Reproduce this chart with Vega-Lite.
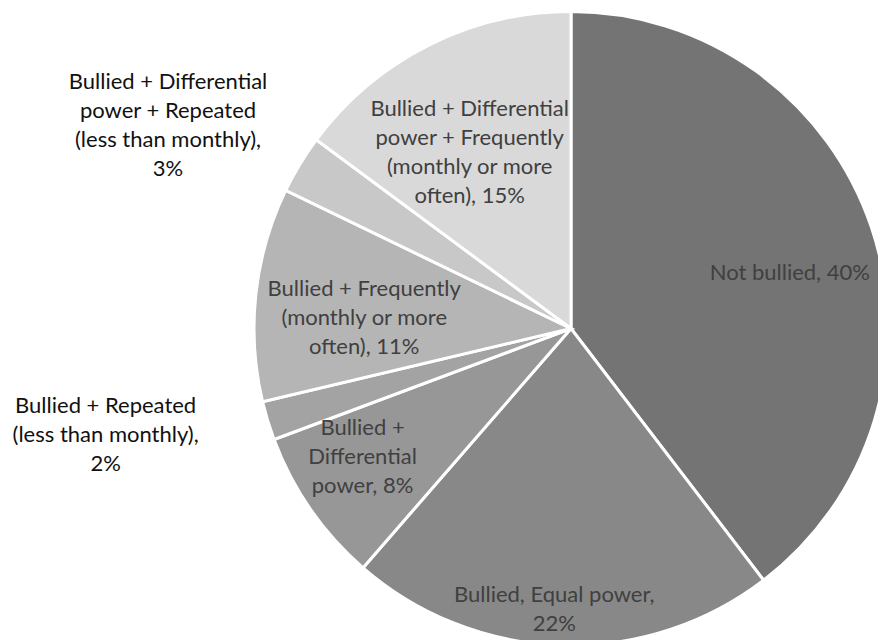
{
  "$schema": "https://vega.github.io/schema/vega-lite/v6.json",
  "width": 1142,
  "height": 657,
  "autosize": "none",
  "padding": 0,
  "background": "white",
  "config": {"view": {"stroke": null}},
  "data": {"values": [
    {"cat": "Not bullied", "value": 40, "ord": 1, "label": "Not bullied, 40%"},
    {"cat": "Bullied, Equal power", "value": 22, "ord": 2, "label": "Bullied, Equal power,\n22%"},
    {"cat": "Bullied + Differential power", "value": 8, "ord": 3, "label": "Bullied +\nDifferential\npower, 8%"},
    {"cat": "Bullied + Repeated (less than monthly)", "value": 2, "ord": 4, "label": "Bullied + Repeated\n(less than monthly),\n2%"},
    {"cat": "Bullied + Frequently (monthly or more often)", "value": 11, "ord": 5, "label": "Bullied + Frequently\n(monthly or more\noften), 11%"},
    {"cat": "Bullied + Differential power + Repeated (less than monthly)", "value": 3, "ord": 6, "label": "Bullied + Differential\npower + Repeated\n(less than monthly),\n3%"},
    {"cat": "Bullied + Differential power + Frequently (monthly or more often)", "value": 15, "ord": 7, "label": "Bullied + Differential\npower + Frequently\n(monthly or more\noften), 15%"}
  ]},
  "layer": [
    {
      "mark": {"type": "arc", "outerRadius": 317, "stroke": "white", "strokeWidth": 3},
      "encoding": {
        "theta": {"field": "value", "type": "quantitative", "stack": true},
        "order": {"field": "ord", "type": "quantitative"},
        "color": {"field": "cat", "type": "nominal", "legend": null,
          "scale": {"domain": ["Not bullied", "Bullied, Equal power", "Bullied + Differential power", "Bullied + Repeated (less than monthly)", "Bullied + Frequently (monthly or more often)", "Bullied + Differential power + Repeated (less than monthly)", "Bullied + Differential power + Frequently (monthly or more often)"],
            "range": ["#747474", "#888888", "#979797", "#a3a3a3", "#b5b5b5", "#c8c8c8", "#d9d9d9"]}}
      }
    },
    {
      "mark": {"type": "text", "radius": 231, "dy": 19, "font": "Lato", "fontSize": 22, "lineHeight": 29, "lineBreak": "\n", "color": "#404040", "align": "center", "baseline": "middle"},
      "encoding": {
        "theta": {"field": "value", "type": "quantitative", "stack": true},
        "order": {"field": "ord", "type": "quantitative"},
        "text": {"condition": {"test": "datum.ord == 1", "field": "label"}, "value": ""}
      }
    },
    {
      "mark": {"type": "text", "radius": 280, "dx": -8, "dy": -13, "font": "Lato", "fontSize": 22, "lineHeight": 29, "lineBreak": "\n", "color": "#404040", "align": "center", "baseline": "middle"},
      "encoding": {
        "theta": {"field": "value", "type": "quantitative", "stack": true},
        "order": {"field": "ord", "type": "quantitative"},
        "text": {"condition": {"test": "datum.ord == 2", "field": "label"}, "value": ""}
      }
    },
    {
      "mark": {"type": "text", "radius": 244, "dx": -8, "dy": -40, "font": "Lato", "fontSize": 22, "lineHeight": 29, "lineBreak": "\n", "color": "#404040", "align": "center", "baseline": "middle"},
      "encoding": {
        "theta": {"field": "value", "type": "quantitative", "stack": true},
        "order": {"field": "ord", "type": "quantitative"},
        "text": {"condition": {"test": "datum.ord == 3", "field": "label"}, "value": ""}
      }
    },
    {
      "mark": {"type": "text", "radius": 476, "dx": -10, "dy": -61, "font": "Lato", "fontSize": 22, "lineHeight": 29, "lineBreak": "\n", "color": "#111111", "align": "center", "baseline": "middle"},
      "encoding": {
        "theta": {"field": "value", "type": "quantitative", "stack": true},
        "order": {"field": "ord", "type": "quantitative"},
        "text": {"condition": {"test": "datum.ord == 4", "field": "label"}, "value": ""}
      }
    },
    {
      "mark": {"type": "text", "radius": 208, "dy": -17, "font": "Lato", "fontSize": 22, "lineHeight": 29, "lineBreak": "\n", "color": "#404040", "align": "center", "baseline": "middle"},
      "encoding": {
        "theta": {"field": "value", "type": "quantitative", "stack": true},
        "order": {"field": "ord", "type": "quantitative"},
        "text": {"condition": {"test": "datum.ord == 5", "field": "label"}, "value": ""}
      }
    },
    {
      "mark": {"type": "text", "radius": 450, "dx": -18, "dy": -13, "font": "Lato", "fontSize": 22, "lineHeight": 29, "lineBreak": "\n", "color": "#111111", "align": "center", "baseline": "middle"},
      "encoding": {
        "theta": {"field": "value", "type": "quantitative", "stack": true},
        "order": {"field": "ord", "type": "quantitative"},
        "text": {"condition": {"test": "datum.ord == 6", "field": "label"}, "value": ""}
      }
    },
    {
      "mark": {"type": "text", "radius": 203, "dx": -10, "dy": -38, "font": "Lato", "fontSize": 22, "lineHeight": 29, "lineBreak": "\n", "color": "#404040", "align": "center", "baseline": "middle"},
      "encoding": {
        "theta": {"field": "value", "type": "quantitative", "stack": true},
        "order": {"field": "ord", "type": "quantitative"},
        "text": {"condition": {"test": "datum.ord == 7", "field": "label"}, "value": ""}
      }
    }
  ]
}
